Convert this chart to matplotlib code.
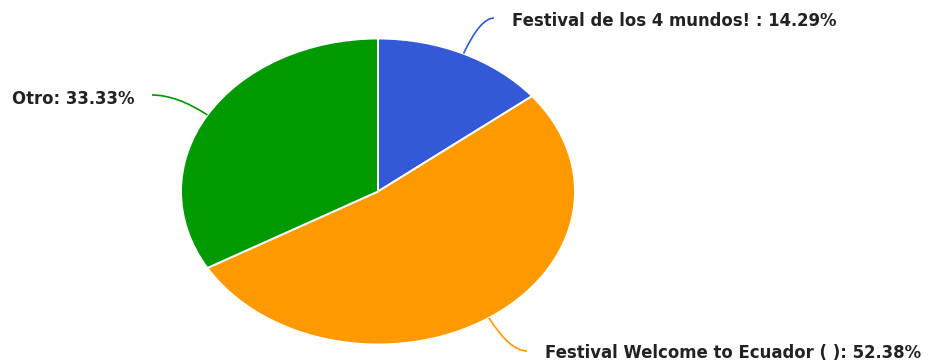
import matplotlib
matplotlib.use("Agg")
import matplotlib.pyplot as plt
from matplotlib.path import Path
from matplotlib.patches import PathPatch
import numpy as np

categories = ["Festival de los 4 mundos! ", "Festival Welcome to Ecuador ( )", "Otro"]
shares = [14.29, 52.38, 33.33]
colors = ["#3359D6", "#FF9900", "#009900"]

W, H = 935, 362
fig = plt.figure(figsize=(W / 100, H / 100), dpi=100)
ax = fig.add_axes([0, 0, 1, 1])

# pie centre and radii in pixels (the pie is drawn slightly stretched horizontally)
cx, cy, rx, ry = 378, 191.5, 197, 153

wedges, _ = ax.pie(shares, colors=colors, startangle=90, counterclock=False,
                   radius=1, center=(0, 0),
                   wedgeprops=dict(edgecolor="white", linewidth=1.4))
ax.set_aspect("auto")
ax.set_xlim(-cx / rx, (W - cx) / rx)
ax.set_ylim(-(H - cy) / ry, cy / ry)
ax.axis("off")


def px(x, y):
    """pixel position (origin top-left) -> data coordinates"""
    return ((x - cx) / rx, (cy - y) / ry)


# label layout: text anchor (pixels), horizontal alignment, leader end (pixels)
label_layout = [
    dict(text=(512, 26.5), ha="left", end=(494, 18)),
    dict(text=(545, 357.5), ha="left", end=(527, 351)),
    dict(text=(135, 104.5), ha="right", end=(152, 95)),
]

total = sum(shares)
start = 90.0
for name, val, col, lay in zip(categories, shares, colors, label_layout):
    sweep = 360.0 * val / total
    mid = np.deg2rad(start - sweep / 2)
    start -= sweep
    sx, sy = np.cos(mid), np.sin(mid)
    ex, ey = px(*lay["end"])
    # curved leader: leaves the rim and flattens out toward the label
    c = (sx + (ex - sx) * 0.55, ey)
    path = Path([(sx, sy), c, (ex, ey)], [Path.MOVETO, Path.CURVE3, Path.CURVE3])
    ax.add_patch(PathPatch(path, facecolor="none", edgecolor=col, lw=1.2))
    tx, ty = px(*lay["text"])
    ax.text(tx, ty, f"{name}: {val:.2f}%", ha=lay["ha"], va="baseline",
            fontsize=11.9, fontweight="bold", color="#222222",
            family="DejaVu Sans")

fig.savefig("out.png", dpi=100)
